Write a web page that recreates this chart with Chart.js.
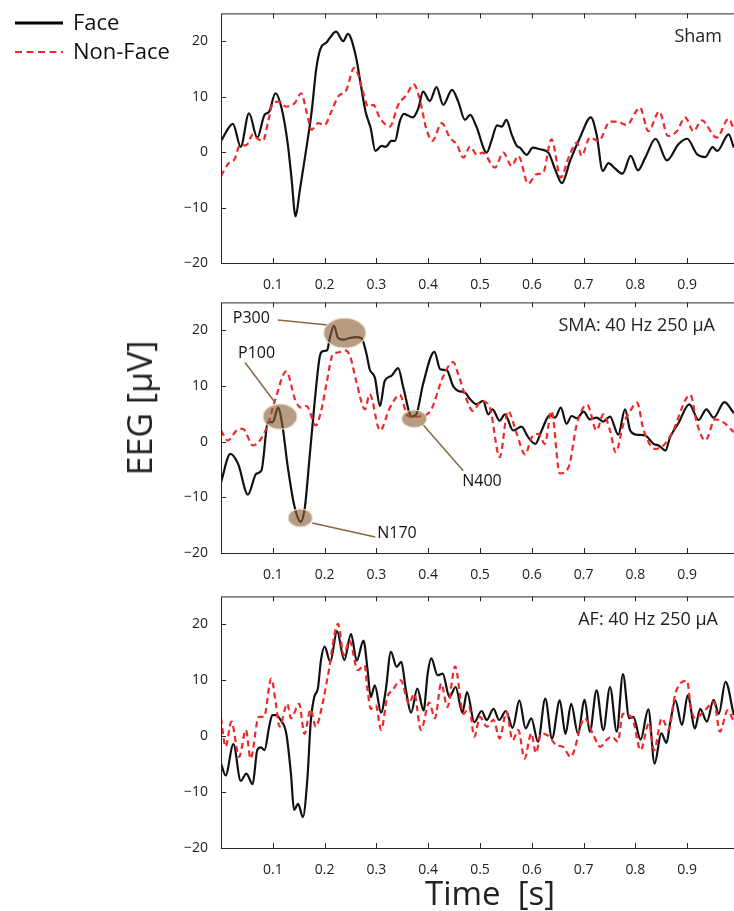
<!DOCTYPE html>
<html>
<head>
<meta charset="utf-8">
<title>EEG Face / Non-Face</title>
<script src="https://cdn.jsdelivr.net/npm/chart.js@4.4.1/dist/chart.umd.min.js"></script>
<style>
  html, body { margin: 0; padding: 0; background: #fff; }
  body { width: 734px; height: 911px; overflow: hidden; position: relative; font-family: "Open Sans", sans-serif; color: #222; }
  canvas { position: absolute; left: 0; }
  .axis-title { position: absolute; white-space: pre; line-height: 1; transform: translate(-50%, -50%); }
</style>
</head>
<body>
<canvas id="sham" width="745" height="290" style="top:0px"></canvas>
<canvas id="sma" width="745" height="291" style="top:289px"></canvas>
<canvas id="af" width="745" height="292" style="top:583px"></canvas>
<div class="axis-title" style="left:139px; top:408px; font-size:34px; transform:translate(-50%,-50%) rotate(-90deg)">EEG [μV]</div>
<div class="axis-title" style="left:490px; top:892px; font-size:33px">Time  [s]</div>

<script>
// ERP waveforms: [time s, amplitude uV]
const shamFace = [[0,2.0],[.023,5.1],[.038,0.95],[.054,7.0],[.070,2.6],[.084,6.7],[.093,7.3],[.105,10.6],[.117,7.9],[.129,1.4],[.136,-4.6],[.144,-11.6],[.152,-7.0],[.165,0.8],[.175,7.3],[.184,15.1],[.192,18.6],[.204,19.8],[.211,20.7],[.222,21.7],[.236,20.0],[.245,21.3],[.260,17.4],[.271,11.5],[.279,7.3],[.289,4.3],[.298,0.2],[.310,1.1],[.318,0.95],[.329,2.0],[.336,2.0],[.345,5.5],[.353,6.9],[.370,6.25],[.381,7.9],[.390,10.9],[.403,9.2],[.416,11.7],[.429,8.5],[.446,11.2],[.458,9.1],[.471,5.8],[.481,6.7],[.493,4.6],[.513,-0.1],[.522,2.0],[.533,4.8],[.542,4.6],[.551,5.8],[.561,3.2],[.571,1.1],[.577,0.8],[.590,-0.5],[.602,0.8],[.616,0.5],[.632,-0.1],[.645,-3.1],[.658,-5.6],[.674,-1.6],[.693,2.6],[.714,6.25],[.725,3.2],[.737,-3.4],[.748,-2.0],[.761,-3.0],[.775,-3.9],[.791,-0.7],[.805,-3.3],[.819,-1.0],[.839,2.4],[.861,-1.5],[.883,1.4],[.900,2.4],[.919,-0.4],[.935,-0.9],[.949,0.9],[.958,0.2],[.980,3.2],[.99,0.8]];
const shamNonFace = [[0,-4.3],[.014,-2.1],[.026,-1.3],[.036,1.1],[.049,1.25],[.062,3.2],[.068,2.6],[.081,2.0],[.091,5.5],[.100,8.8],[.110,9.1],[.126,8.2],[.142,8.8],[.155,10.6],[.165,7.3],[.175,4.0],[.187,5.2],[.200,4.9],[.213,7.3],[.226,10.0],[.242,11.2],[.257,15.2],[.265,13.9],[.274,10.9],[.284,8.2],[.294,8.5],[.307,6.1],[.326,4.6],[.342,8.5],[.358,10.3],[.372,12.2],[.384,9.4],[.396,4.3],[.408,2.0],[.426,5.2],[.442,2.6],[.455,1.4],[.468,-1.0],[.481,1.0],[.494,-0.5],[.505,-0.1],[.529,-2.8],[.545,-0.1],[.561,-2.5],[.574,-0.7],[.593,-5.7],[.609,-4.0],[.622,-3.7],[.638,2.3],[.656,-4.6],[.671,-1.0],[.687,1.7],[.696,-0.7],[.712,2.6],[.729,2.0],[.751,5.5],[.764,5.5],[.783,4.9],[.809,8.0],[.825,3.75],[.846,7.3],[.863,2.9],[.880,3.75],[.896,6.25],[.912,3.75],[.928,5.7],[.957,2.6],[.980,6.0],[.99,4.0]];

const smaFace = [[0,-7.3],[.018,-2.2],[.033,-4.0],[.052,-9.5],[.068,-5.8],[.078,-5.2],[.091,3.5],[.100,3.5],[.110,6.1],[.118,3.2],[.129,-4.6],[.142,-11.7],[.154,-14.4],[.162,-11.7],[.171,-2.8],[.181,7.3],[.191,15.4],[.197,16.25],[.205,16.4],[.210,18.6],[.218,20.8],[.226,18.6],[.236,18.3],[.249,18.6],[.261,18.75],[.271,18.6],[.281,15.7],[.287,13.0],[.297,11.5],[.307,6.4],[.316,10.9],[.329,11.8],[.342,13.2],[.352,9.7],[.368,4.5],[.377,4.9],[.390,10.3],[.412,16.1],[.423,13.0],[.436,12.8],[.448,10.0],[.458,9.1],[.471,8.8],[.481,7.6],[.493,6.7],[.506,7.3],[.516,4.9],[.524,5.8],[.538,3.75],[.548,4.9],[.564,2.0],[.580,2.7],[.593,0.8],[.607,-0.4],[.619,2.0],[.635,4.8],[.645,4.3],[.656,6.1],[.667,3.2],[.677,4.6],[.687,4.2],[.700,5.4],[.712,4.0],[.725,4.3],[.738,3.6],[.751,4.5],[.767,1.25],[.780,5.8],[.790,2.0],[.802,1.25],[.819,1.1],[.835,-0.4],[.845,-0.7],[.858,-1.6],[.867,0.8],[.883,3.3],[.904,6.7],[.922,3.9],[.937,5.8],[.951,4.3],[.972,7.1],[.99,5.1]];
const smaNonFace = [[0,2.0],[.013,0.2],[.030,2.0],[.042,2.3],[.062,-0.7],[.075,0.2],[.091,3.2],[.104,7.3],[.126,12.6],[.144,7.3],[.155,6.1],[.165,6.4],[.183,2.9],[.194,5.8],[.204,10.6],[.216,15.7],[.226,16.0],[.239,16.4],[.249,15.4],[.261,10.9],[.278,5.8],[.287,8.5],[.307,2.0],[.326,6.1],[.345,8.4],[.361,4.6],[.371,4.5],[.390,4.6],[.406,5.8],[.428,11.5],[.448,14.3],[.458,12.1],[.474,7.6],[.486,5.5],[.503,7.3],[.519,6.1],[.538,-2.8],[.554,5.5],[.571,1.4],[.587,-2.3],[.600,0.8],[.613,1.4],[.625,-0.4],[.638,5.5],[.654,-5.7],[.671,-4.6],[.687,3.2],[.707,6.6],[.725,2.0],[.738,4.9],[.751,2.0],[.762,-1.9],[.777,3.2],[.790,5.5],[.803,7.0],[.816,2.0],[.838,-1.3],[.854,-0.7],[.870,1.4],[.906,8.4],[.919,3.2],[.935,0.2],[.954,4.0],[.970,3.45],[.99,1.7]];

const afFace = [[0,-4.9],[.009,-7.0],[.024,-1.4],[.038,-8.0],[.049,-6.7],[.061,-8.6],[.070,-2.5],[.077,-2.0],[.084,-2.5],[.093,1.7],[.099,3.75],[.106,3.75],[.115,2.9],[.126,0.5],[.135,-6.7],[.141,-13.2],[.149,-12.1],[.158,-14.5],[.167,-7.3],[.173,2.3],[.180,7.0],[.187,8.5],[.193,13.6],[.200,16.0],[.211,13.3],[.224,18.8],[.238,13.6],[.251,18.3],[.262,13.5],[.275,17.1],[.283,11.8],[.289,7.0],[.297,9.1],[.309,4.2],[.318,8.2],[.328,15.1],[.339,12.4],[.348,13.3],[.357,8.2],[.367,4.2],[.379,8.5],[.391,4.6],[.399,11.2],[.406,13.9],[.418,10.9],[.428,11.2],[.441,7.0],[.453,8.8],[.466,4.2],[.475,7.9],[.489,2.5],[.503,4.5],[.513,2.9],[.526,4.9],[.537,2.9],[.550,4.5],[.563,1.5],[.576,6.4],[.588,1.4],[.599,3.2],[.612,-1.0],[.626,6.7],[.639,-0.4],[.654,6.4],[.665,0.4],[.676,5.8],[.689,0.5],[.702,6.5],[.712,0.8],[.725,8.2],[.738,1.1],[.751,8.8],[.764,0.8],[.776,11.1],[.788,3.2],[.796,3.45],[.810,-0.6],[.825,4.8],[.837,-4.9],[.850,0.5],[.860,-1.2],[.867,2.3],[.877,6.4],[.890,2.0],[.901,7.3],[.915,1.4],[.925,4.9],[.938,2.6],[.951,6.5],[.961,4.0],[.974,9.7],[.99,3.75]];
const afNonFace = [[0,3.2],[.009,-1.9],[.020,2.6],[.035,-3.7],[.048,1.1],[.057,-4.0],[.073,3.45],[.083,3.45],[.097,10.3],[.106,5.8],[.113,1.7],[.128,5.8],[.135,3.2],[.151,5.8],[.161,0.4],[.173,4.8],[.183,1.7],[.196,5.8],[.206,10.6],[.226,20.1],[.237,14.5],[.248,17.1],[.264,11.8],[.277,12.7],[.283,8.2],[.289,4.9],[.299,5.5],[.309,1.1],[.321,7.0],[.331,8.2],[.347,10.0],[.363,5.8],[.373,7.6],[.386,1.1],[.402,6.0],[.413,3.2],[.425,9.4],[.437,5.2],[.452,12.5],[.468,4.0],[.479,5.2],[.489,-0.1],[.500,3.45],[.513,1.7],[.526,2.9],[.538,-0.4],[.551,4.3],[.563,-0.7],[.574,1.1],[.586,-4.0],[.599,0.5],[.608,-3.0],[.618,0.5],[.634,-0.1],[.647,-1.6],[.660,-1.9],[.675,-3.7],[.702,3.2],[.718,0.4],[.732,-1.9],[.744,-0.7],[.755,-0.1],[.766,-1.0],[.776,4.0],[.794,3.2],[.810,-2.5],[.826,2.3],[.836,-2.5],[.851,3.2],[.864,1.1],[.877,7.6],[.900,9.9],[.906,5.8],[.915,3.2],[.931,4.3],[.952,6.1],[.963,0.8],[.978,4.6],[.99,2.6]];

// ERP components marked on the SMA panel
const peakNames = ["P100", "N170", "P300", "N400"];
const peakTimes = [0.114, 0.153, 0.239, 0.373];
const peakAmps = [4.5, -13.7, 19.5, 4.1];

const xTicks = [0.1, 0.2, 0.3, 0.4, 0.5, 0.6, 0.7, 0.8, 0.9];
const yTicks = [-20, -10, 0, 10, 20];

Chart.defaults.font.family = '"Open Sans", sans-serif';
Chart.defaults.color = "#222";

const toXY = arr => arr.map(p => ({ x: p[0], y: p[1] }));

// matlab style box with inward ticks
const boxTicks = {
  id: "boxTicks",
  afterDatasetsDraw(chart) {
    const { ctx, chartArea: a, scales: { x, y } } = chart;
    ctx.save();
    ctx.strokeStyle = "#262626";
    ctx.lineWidth = 1;
    ctx.strokeRect(a.left + 0.5, a.top + 0.5, a.right - a.left, a.bottom - a.top);
    ctx.beginPath();
    xTicks.forEach(v => {
      const px = Math.round(x.getPixelForValue(v)) + 0.5;
      ctx.moveTo(px, a.bottom); ctx.lineTo(px, a.bottom - 5);
      ctx.moveTo(px, a.top); ctx.lineTo(px, a.top + 5);
    });
    yTicks.forEach(v => {
      const py = Math.round(y.getPixelForValue(v)) + 0.5;
      ctx.moveTo(a.left, py); ctx.lineTo(a.left + 5, py);
      ctx.moveTo(a.right, py); ctx.lineTo(a.right - 5, py);
    });
    ctx.stroke();
    ctx.restore();
  }
};

function panelTitle(text, fromRight) {
  return {
    id: "panelTitle",
    afterDraw(chart) {
      const { ctx, chartArea: a } = chart;
      ctx.save();
      ctx.font = '18px "Open Sans"';
      ctx.fillStyle = "#222";
      ctx.textAlign = "right";
      ctx.textBaseline = "middle";
      ctx.fillText(text, a.right - fromRight, a.top + 23);
      ctx.restore();
    }
  };
}

const legendBox = {
  id: "legendBox",
  afterDraw(chart) {
    const ctx = chart.ctx;
    ctx.save();
    ctx.lineWidth = 3;
    ctx.strokeStyle = "#000";
    ctx.beginPath(); ctx.moveTo(15, 23); ctx.lineTo(63, 23); ctx.stroke();
    ctx.lineWidth = 2.2;
    ctx.strokeStyle = "#f02828";
    ctx.setLineDash([7, 4.5]);
    ctx.beginPath(); ctx.moveTo(15, 52); ctx.lineTo(63, 52); ctx.stroke();
    ctx.setLineDash([]);
    ctx.font = '22px "Open Sans"';
    ctx.fillStyle = "#111";
    ctx.textBaseline = "middle";
    ctx.fillText("Face", 73, 24);
    ctx.fillText("Non-Face", 73, 53);
    ctx.restore();
  }
};

// callouts: ellipse size and label / leader offsets in px from the peak
const calloutStyle = {
  P100: { rx: 17, ry: 12.5, text: [-42, -63], line: [[-35, -54], [-5, -14]] },
  N170: { rx: 12, ry: 9, text: [77, 16], line: [[12, 5], [75, 19]] },
  P300: { rx: 21, ry: 15, text: [-112, -15], line: [[-67, -13], [-17, -8]] },
  N400: { rx: 12.5, ry: 8.7, text: [48, 63], line: [[8, 5], [49, 52]] }
};

const peakCallouts = {
  id: "peakCallouts",
  afterDatasetsDraw(chart) {
    const { ctx, scales: { x, y } } = chart;
    ctx.save();
    peakNames.forEach((name, i) => {
      const s = calloutStyle[name];
      const cx = x.getPixelForValue(peakTimes[i]);
      const cy = y.getPixelForValue(peakAmps[i]);
      ctx.strokeStyle = "#8a6540";
      ctx.lineWidth = 1.5;
      ctx.beginPath();
      ctx.moveTo(cx + s.line[0][0], cy + s.line[0][1]);
      ctx.lineTo(cx + s.line[1][0], cy + s.line[1][1]);
      ctx.stroke();
      ctx.beginPath();
      ctx.ellipse(cx, cy, s.rx, s.ry, 0, 0, Math.PI * 2);
      ctx.fillStyle = "rgba(135, 95, 55, 0.62)";
      ctx.fill();
      ctx.strokeStyle = "rgba(235, 220, 200, 0.9)";
      ctx.lineWidth = 1.2;
      ctx.stroke();
      ctx.font = '16px "Open Sans"';
      ctx.fillStyle = "#111";
      ctx.textAlign = "left";
      ctx.textBaseline = "middle";
      ctx.fillText(name, cx + s.text[0], cy + s.text[1]);
    });
    ctx.restore();
  }
};

function makePanel(id, face, nonFace, plugins) {
  return new Chart(document.getElementById(id), {
    type: "line",
    data: {
      datasets: [
        {
          label: "Face",
          data: toXY(face),
          borderColor: "#111",
          borderWidth: 2.2,
          pointRadius: 0,
          cubicInterpolationMode: "monotone",
          order: 2
        },
        {
          label: "Non-Face",
          data: toXY(nonFace),
          borderColor: "#f02828",
          borderWidth: 2.2,
          borderDash: [6, 4],
          pointRadius: 0,
          cubicInterpolationMode: "monotone",
          order: 1
        }
      ]
    },
    options: {
      responsive: false,
      animation: false,
      layout: { padding: { top: 12, right: 6, left: 0, bottom: 0 } },
      plugins: { legend: { display: false }, tooltip: { enabled: false } },
      scales: {
        x: {
          type: "linear",
          min: 0,
          max: 1,
          grid: { display: false },
          border: { display: false },
          afterBuildTicks: s => { s.ticks = xTicks.map(v => ({ value: v })); },
          afterFit: s => { s.height = 27; },
          ticks: {
            font: { size: 14 },
            color: "#222",
            padding: 6,
            maxRotation: 0,
            autoSkip: false,
            callback: v => v.toFixed(1)
          }
        },
        y: {
          min: -20,
          max: 25,
          grid: { display: false },
          border: { display: false },
          afterBuildTicks: s => { s.ticks = yTicks.map(v => ({ value: v })); },
          afterFit: s => { s.width = 221; },
          ticks: {
            font: { size: 14 },
            color: "#222",
            padding: 5,
            callback: v => (v < 0 ? "\u2212" + Math.abs(v) : String(v))
          }
        }
      }
    },
    plugins: [boxTicks].concat(plugins)
  });
}

makePanel("sham", shamFace, shamNonFace, [panelTitle("Sham", 17), legendBox]);
makePanel("sma", smaFace, smaNonFace, [panelTitle("SMA: 40 Hz 250 μA", 24), peakCallouts]);
makePanel("af", afFace, afNonFace, [panelTitle("AF: 40 Hz 250 μA", 21)]);
</script>
</body>
</html>
